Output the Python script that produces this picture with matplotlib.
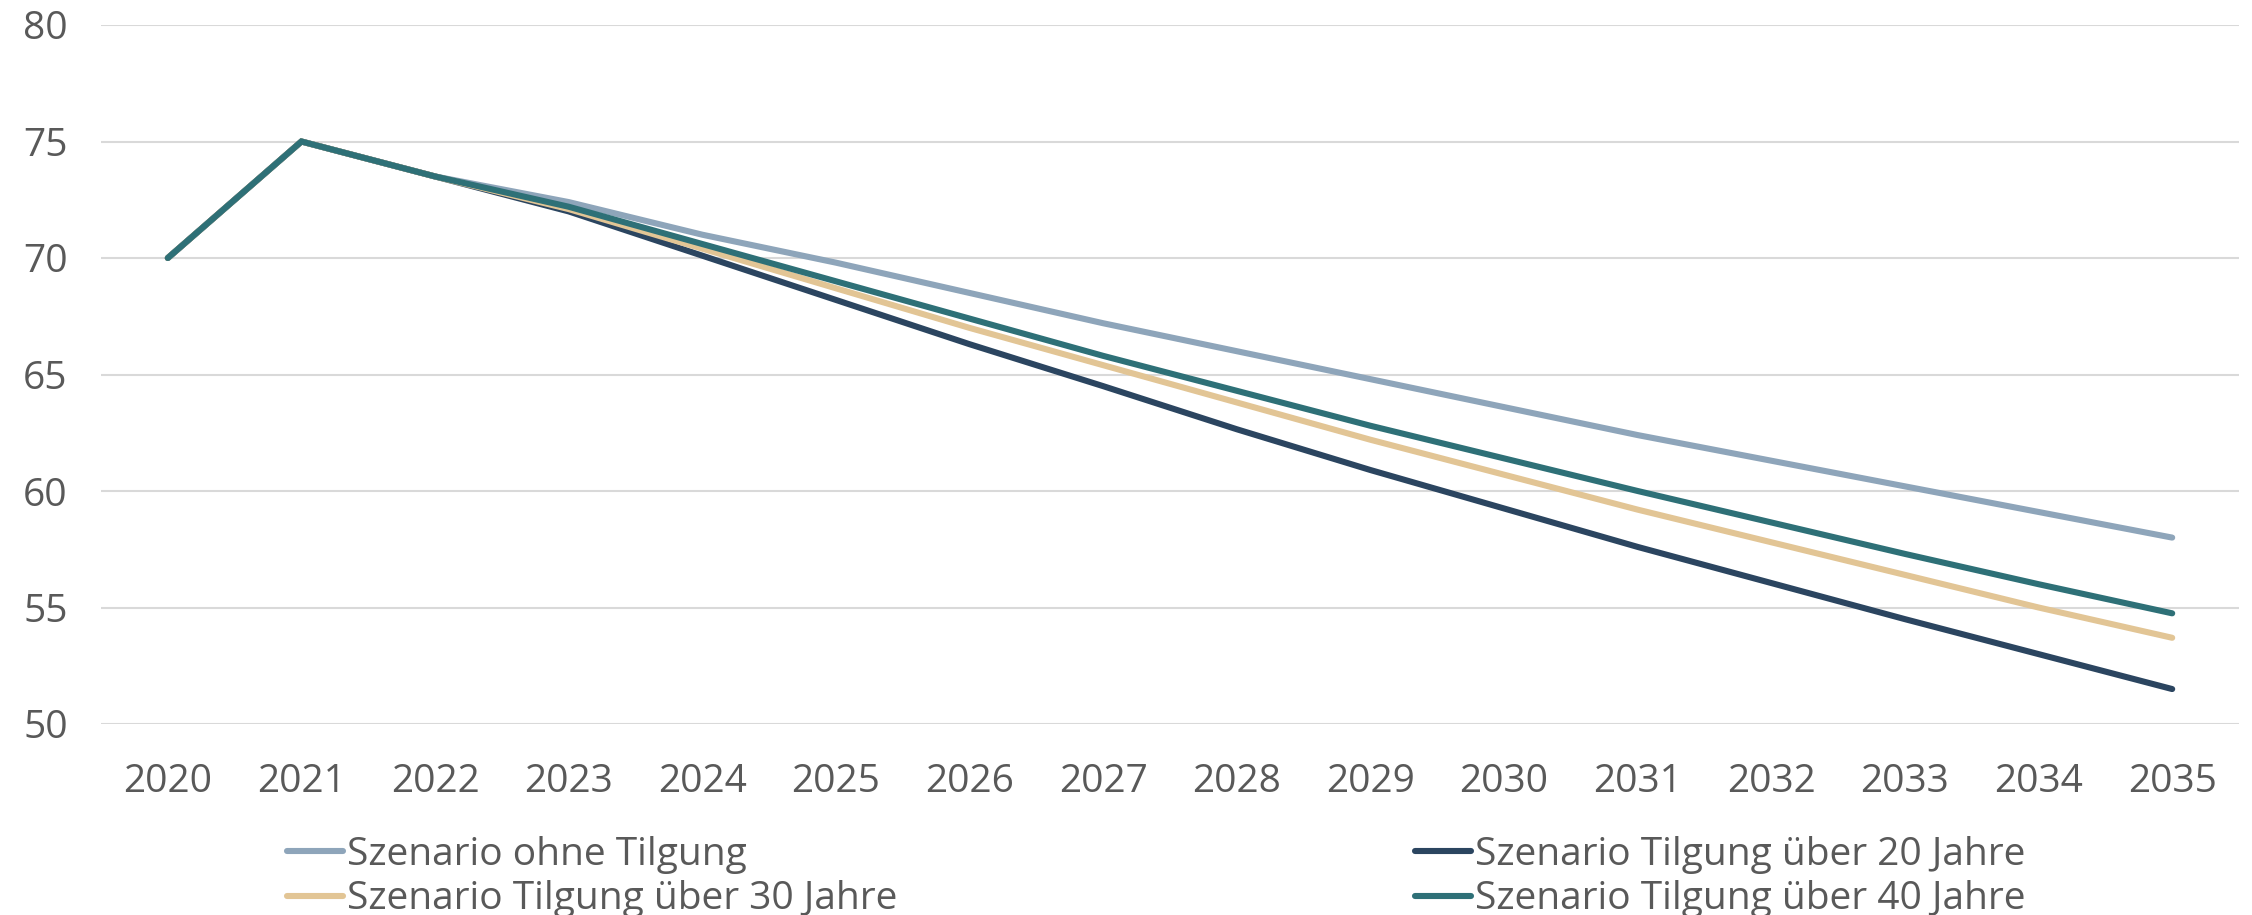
import numpy as np
import matplotlib
matplotlib.use('Agg')
import matplotlib.pyplot as plt

plt.rcParams['font.family'] = ['Open Sans', 'DejaVu Sans']

years = list(range(2020, 2036))
ohne_tilgung = [70, 75, 73.5, 72.4, 71.0, 69.8, 68.5, 67.2, 66.0, 64.8, 63.6, 62.4, 61.3, 60.2, 59.1, 58.0]
tilgung_20 = [70, 75, 73.5, 72.0, 70.1, 68.2, 66.3, 64.5, 62.65, 60.9, 59.25, 57.6, 56.05, 54.5, 53.0, 51.5]
tilgung_30 = [70, 75, 73.5, 72.1, 70.4, 68.7, 67.0, 65.4, 63.8, 62.2, 60.7, 59.2, 57.8, 56.4, 55.0, 53.7]
tilgung_40 = [70, 75, 73.5, 72.2, 70.6, 69.0, 67.4, 65.8, 64.3, 62.8, 61.4, 60.0, 58.65, 57.3, 56.0, 54.75]

labels = ['Szenario ohne Tilgung', 'Szenario Tilgung über 20 Jahre',
          'Szenario Tilgung über 30 Jahre', 'Szenario Tilgung über 40 Jahre']
colors = ['#8EA5BA', '#2B4560', '#E2C595', '#2E7077']
series = [ohne_tilgung, tilgung_20, tilgung_30, tilgung_40]

text_col = '#595959'
fs = 28

fig = plt.figure(figsize=(22.52, 9.15), dpi=100)
ax = fig.add_axes([101 / 2252, 1 - 724 / 915, 2138 / 2252, 699 / 915])

x = np.arange(len(years))
lines = []
for vals, col, lab in zip(series, colors, labels):
    ln, = ax.plot(x, vals, color=col, lw=4.4, solid_capstyle='round',
                  solid_joinstyle='miter', label=lab)
    lines.append(ln)

ax.set_xlim(-0.5, len(years) - 0.5)
ax.set_ylim(50, 80)
ax.set_yticks(np.arange(50, 81, 5))
ax.set_xticks(x)
ax.set_xticklabels([str(y) for y in years])
ax.grid(axis='y', color='#D9D9D9', lw=1.5)
ax.set_axisbelow(True)
for s in ax.spines.values():
    s.set_visible(False)
ax.tick_params(axis='both', length=0, labelsize=fs, labelcolor=text_col)
ax.tick_params(axis='y', pad=24)
ax.tick_params(axis='x', pad=28)

leg_kw = dict(frameon=False, fontsize=fs, labelcolor=text_col, loc='upper left',
              borderpad=0, borderaxespad=0, handlelength=1.45, handletextpad=0.1,
              labelspacing=0.16)
leg1 = fig.legend([lines[0], lines[2]], [labels[0], labels[2]],
                  bbox_to_anchor=(287 / 2252, 1 - 836 / 915), **leg_kw)
leg2 = fig.legend([lines[1], lines[3]], [labels[1], labels[3]],
                  bbox_to_anchor=(1415 / 2252, 1 - 836 / 915), **leg_kw)

fig.savefig('out.png', dpi=100)
